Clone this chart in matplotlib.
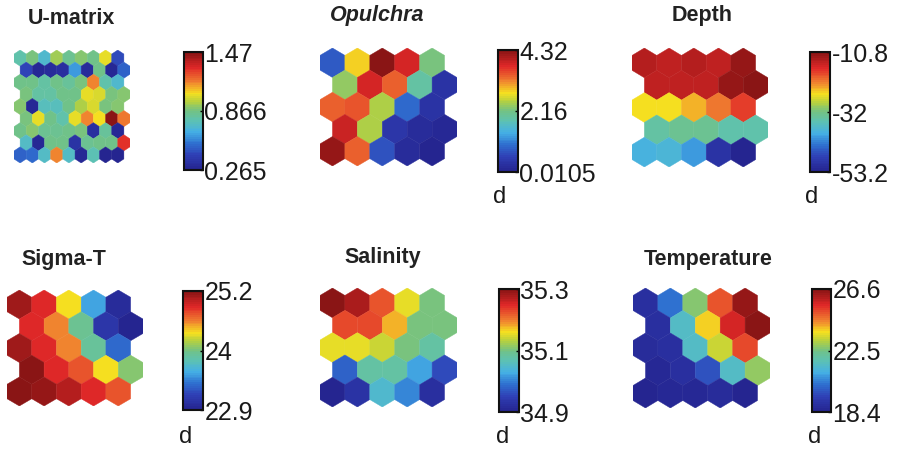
import numpy as np
import matplotlib.pyplot as plt
from matplotlib.collections import PolyCollection
from matplotlib.colors import LinearSegmentedColormap

plt.rcParams['font.family'] = ['Liberation Sans', 'DejaVu Sans']

# SOM component planes, rows top to bottom, odd rows shifted right
umatrix = [
    [0.79, 0.87, 0.70, 0.93, 0.84, 0.90, 0.86, 1.02, 0.45],
    [0.42, 0.30, 0.32, 0.33, 0.62, 0.32, 0.85, 0.30, 0.50],
    [0.86, 0.85, 0.80, 0.86, 0.82, 0.88, 1.15, 0.78, 0.70],
    [0.88, 0.80, 0.80, 0.85, 0.86, 1.03, 1.00, 0.88, 0.90],
    [0.90, 0.30, 0.74, 0.74, 0.86, 0.95, 1.00, 0.87, 0.90],
    [0.88, 1.03, 0.86, 0.78, 1.02, 1.15, 1.05, 1.47, 1.17],
    [0.86, 0.90, 0.84, 0.84, 0.85, 0.88, 0.33, 0.82, 0.30],
    [0.72, 0.30, 0.86, 0.86, 0.35, 0.84, 0.86, 0.86, 1.30],
    [0.50, 0.52, 0.72, 1.15, 0.72, 0.30, 0.76, 0.28, 0.265],
]
opulchra = [
    [0.80, 2.90, 4.32, 3.80, 2.20],
    [2.30, 3.80, 3.40, 1.90, 0.30],
    [3.40, 3.50, 2.50, 0.90, 0.30],
    [3.90, 2.50, 0.40, 0.20, 0.10],
    [4.25, 3.40, 0.70, 0.20, 0.0105],
]
depth = [
    [-14.0, -14.5, -14.0, -14.5, -11.5],
    [-14.5, -14.5, -14.5, -12.0, -10.8],
    [-26.0, -25.5, -23.5, -21.0, -17.5],
    [-34.5, -33.0, -33.0, -35.0, -35.0],
    [-39.0, -38.5, -41.0, -50.5, -53.2],
]
sigma_t = [
    [25.10, 24.90, 24.40, 23.60, 23.00],
    [24.90, 24.60, 24.00, 23.10, 22.90],
    [25.10, 24.90, 24.60, 23.95, 23.40],
    [25.20, 24.90, 24.75, 24.40, 24.10],
    [25.20, 25.15, 25.05, 24.90, 24.75],
]
salinity = [
    [35.30, 35.28, 35.22, 35.15, 35.10],
    [35.23, 35.23, 35.18, 35.10, 35.10],
    [35.15, 35.15, 35.14, 35.10, 35.08],
    [34.98, 35.08, 35.08, 35.02, 34.96],
    [34.90, 34.93, 35.05, 35.00, 34.92],
]
temperature = [
    [18.8, 20.3, 22.7, 25.0, 26.4],
    [18.8, 21.6, 23.9, 25.7, 26.6],
    [18.7, 18.8, 21.6, 23.3, 25.1],
    [18.6, 18.8, 19.8, 21.6, 22.8],
    [18.5, 18.6, 18.6, 18.7, 18.4],
]

titles = ['U-matrix', 'Opulchra', 'Depth', 'Sigma-T', 'Salinity', 'Temperature']
tick_labels = [
    ['0.265', '0.866', '1.47'],
    ['0.0105', '2.16', '4.32'],
    ['-53.2', '-32', '-10.8'],
    ['22.9', '24', '25.2'],
    ['34.9', '35.1', '35.3'],
    ['18.4', '22.5', '26.6'],
]
planes = [umatrix, opulchra, depth, sigma_t, salinity, temperature]

W, H = 898, 450
fig = plt.figure(figsize=(W / 100, H / 100), dpi=100)


def box(l, t, w, h):
    return [l / W, 1 - (t + h) / H, w / W, h / H]


# pixel boxes: map, colorbar, title centre, "d" label centre
map_boxes = [(14, 50, 116, 113), (320, 48, 137, 118), (632, 48, 136, 119),
             (7, 290, 136, 116), (320, 288, 137, 119), (633, 288, 137, 120)]
cb_boxes = [(184, 52, 19, 118), (498, 50, 20, 122), (810, 52, 20, 120),
            (183, 291, 20, 119), (499, 289, 20, 123), (812, 289, 19, 123)]
title_pos = [(71, 19), (377, 16), (702, 16), (64, 260), (383, 258), (708, 260)]
d_pos = [None, (500, 197), (812, 197), (186, 437), (503, 437), (815, 437)]

# softened jet, 64 steps
cmap = LinearSegmentedColormap.from_list('softjet', [
    (0.00, '#252590'), (0.12, '#2f3fb5'), (0.22, '#2f70d0'),
    (0.32, '#45b0e5'), (0.42, '#5ec2b0'), (0.50, '#72c285'),
    (0.58, '#b5d040'), (0.65, '#f5e020'), (0.75, '#f08030'),
    (0.87, '#e02828'), (1.00, '#8a1515')], N=64)


def hex_plane(ax, vals):
    vals = np.asarray(vals, dtype=float)
    nr, nc = vals.shape
    verts = []
    for r in range(nr):
        for c in range(nc):
            cx = c + 0.5 * (r % 2)
            cy = r
            verts.append([(cx, cy - 2 / 3), (cx + 0.5, cy - 1 / 3),
                          (cx + 0.5, cy + 1 / 3), (cx, cy + 2 / 3),
                          (cx - 0.5, cy + 1 / 3), (cx - 0.5, cy - 1 / 3)])
    pc = PolyCollection(verts, array=vals.ravel(), cmap=cmap,
                        edgecolors='face', linewidths=0.3)
    pc.set_clim(vals.min(), vals.max())
    ax.add_collection(pc)
    ax.set_xlim(-0.5, nc)
    ax.set_ylim(nr - 1 + 2 / 3, -2 / 3)
    ax.axis('off')
    return pc


for i in range(6):
    ax = fig.add_axes(box(*map_boxes[i]))
    pc = hex_plane(ax, planes[i])
    lo, hi = pc.get_clim()
    cax = fig.add_axes(box(*cb_boxes[i]))
    cb = fig.colorbar(pc, cax=cax, ticks=[lo, (lo + hi) / 2, hi])
    cb.outline.set_linewidth(1.5)
    cb.outline.set_edgecolor('#111111')
    cax.set_yticklabels(tick_labels[i])
    cax.tick_params(direction='in', length=2, width=1, pad=1,
                    labelsize=18, labelcolor='#1a1a1a')
    style = 'italic' if titles[i] == 'Opulchra' else 'normal'
    fig.text(title_pos[i][0] / W, 1 - title_pos[i][1] / H, titles[i],
             ha='center', va='center', fontsize=15.5, fontweight='bold',
             style=style, color='#222222')
    if d_pos[i]:
        fig.text(d_pos[i][0] / W, 1 - d_pos[i][1] / H, 'd', ha='center',
                 va='center', fontsize=17, color='#1a1a1a')

fig.savefig('out.png', dpi=100)
